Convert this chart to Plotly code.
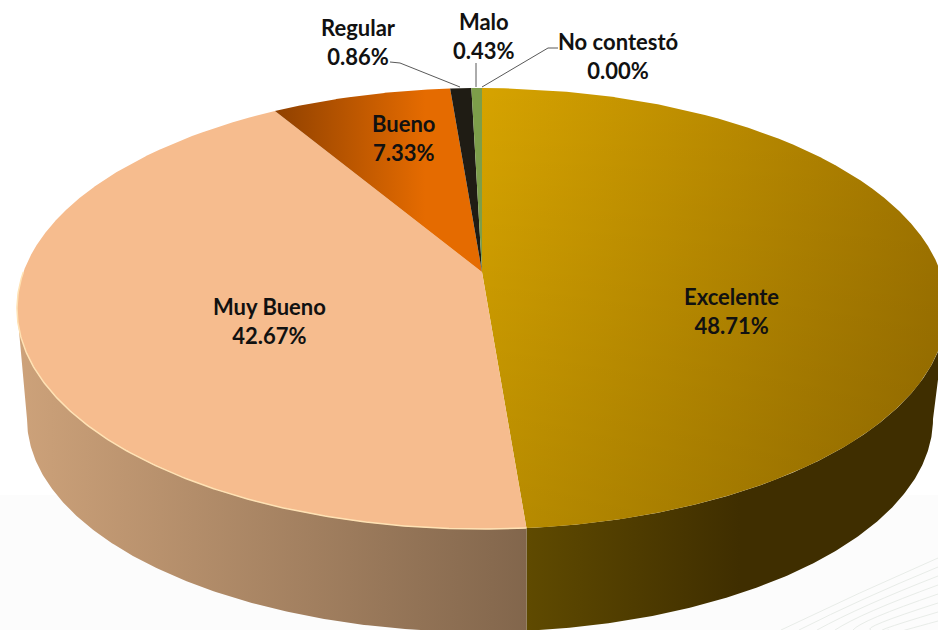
import numpy as np
import plotly.graph_objects as go

# ---- data ----
categories = ["Excelente", "Muy Bueno", "Bueno", "Regular", "Malo", "No contestó"]
values = [48.71, 42.67, 7.33, 0.86, 0.43, 0.00]

# ---- projection of the pie disc (axis units = pixels) ----
CX, CY = 482.0, 272.0      # apex of the slices
RX, RY = 458.6, 214.5      # radii of the top disc
K = 0.1656                 # perspective strength
BCX, BCY, BA, BB = 480.0, 419.0, 453.0, 213.0   # bottom rim ellipse


def rim(a):
    a = np.asarray(a, dtype=float)
    w = 1 + K * np.cos(a)
    return CX + RX * np.sin(a) / w, CY - RY * np.cos(a) / w


def wedge(p0, p1):
    a = 2 * np.pi * np.linspace(p0, p1, max(int((p1 - p0) * 3), 3) * 40 + 1) / 100
    x, y = rim(a)
    return np.r_[CX, x, CX], np.r_[CY, y, CY]


def grad(orient, start, stop, c0, c1):
    return dict(type=orient, start=start, stop=stop, colorscale=[[0, c0], [1, c1]])


def poly(x, y, **kw):
    return go.Scatter(x=x, y=y, mode="lines", fill="toself", line=dict(width=0),
                      hoverinfo="skip", showlegend=False, **kw)


cum = np.cumsum([0] + values)
fig = go.Figure()

# ---- side wall, split below the Excelente / Muy Bueno border ----
a_seam = 2 * np.pi * cum[1] / 100
seam_x, seam_y = rim(a_seam)
a_edge = np.arccos(-K)
t_seam = np.arccos((seam_x - BCX) / BA)

a1 = np.linspace(a_edge, a_seam, 200)
t1 = np.linspace(t_seam, 0, 200)
xr, yr = rim(a1)
fig.add_trace(poly(np.r_[xr, BCX + BA * np.cos(t1)], np.r_[yr, BCY + BB * np.sin(t1)],
                   fillgradient=grad("horizontal", seam_x, 740, "#5F4A00", "#3F2E00")))

a2 = np.linspace(a_seam, 2 * np.pi - a_edge, 200)
t2 = np.linspace(np.pi, t_seam, 200)
xr, yr = rim(a2)
fig.add_trace(poly(np.r_[xr, BCX + BA * np.cos(t2)], np.r_[yr, BCY + BB * np.sin(t2)],
                   fillgradient=grad("horizontal", 17, seam_x, "#CDA27A", "#82664C")))

# ---- top disc ----
x, y = wedge(cum[0], cum[1])
fig.add_trace(poly(x, y, fillgradient=grad("horizontal", CX, 938, "#D6A300", "#A27600")))
fig.add_trace(poly(x, y, fillgradient=grad("vertical", 88, 528, "rgba(0,0,0,0)", "rgba(0,0,0,0.13)")))

x, y = wedge(cum[1], cum[2])
fig.add_trace(poly(x, y, fillcolor="#F6BC8E"))
am = 2 * np.pi * np.linspace(cum[1], 75, 200) / 100
rx_, ry_ = rim(am)
fig.add_trace(go.Scatter(x=rx_, y=ry_, mode="lines", line=dict(color="#FFE2B4", width=1.5),
                         hoverinfo="skip", showlegend=False))

x, y = wedge(cum[2], cum[3])
fig.add_trace(poly(x, y, fillgradient=grad("horizontal", 272, 425, "#8E4000", "#E56B00")))

x, y = wedge(cum[3], cum[4])
fig.add_trace(poly(x, y, fillcolor="#1F1C14"))

x, y = wedge(cum[4], cum[5])
fig.add_trace(poly(x, y, fillcolor="#7D9E4A"))

# ---- leader lines ----
leaders = [([390, 400, 460], [62, 63, 87]),
           ([476, 476], [63, 87]),
           ([558, 548, 482], [48, 48, 87])]
for lx, ly in leaders:
    fig.add_trace(go.Scatter(x=lx, y=ly, mode="lines", line=dict(color="#595959", width=1),
                             hoverinfo="skip", showlegend=False))

# ---- labels ----
label_pos = [(731, 311), (269, 321), (404, 138), (358, 42), (484, 36), (618, 56)]
for name, val, (lx, ly) in zip(categories, values, label_pos):
    fig.add_annotation(x=lx, y=ly, text=f"<b>{name}<br>{val:.2f}%</b>", showarrow=False,
                       font=dict(family="Lato", size=22, color="#111111"))

# ---- faint page background ----
shapes = [dict(type="rect", x0=0, x1=938, y0=495, y1=630, line_width=0,
               fillcolor="#FCFCFC", layer="below")]
for off in range(0, 64, 9):
    shapes.append(dict(type="path", layer="below", line=dict(color="#E8ECE8", width=1),
                       path=f"M {781 + off * 2.0},630 Q 860,{592 + off * 0.8} 938,{558 + off}"))

fig.update_layout(
    width=938, height=630, autosize=False,
    margin=dict(l=0, r=0, t=0, b=0),
    paper_bgcolor="white", plot_bgcolor="rgba(0,0,0,0)",
    xaxis=dict(range=[0, 938], visible=False, fixedrange=True),
    yaxis=dict(range=[630, 0], visible=False, fixedrange=True),
    shapes=shapes, showlegend=False,
)
fig.write_html("out.html", config=dict(displayModeBar=False),
               post_script="document.body.style.margin='0';document.body.style.overflow='hidden';")
